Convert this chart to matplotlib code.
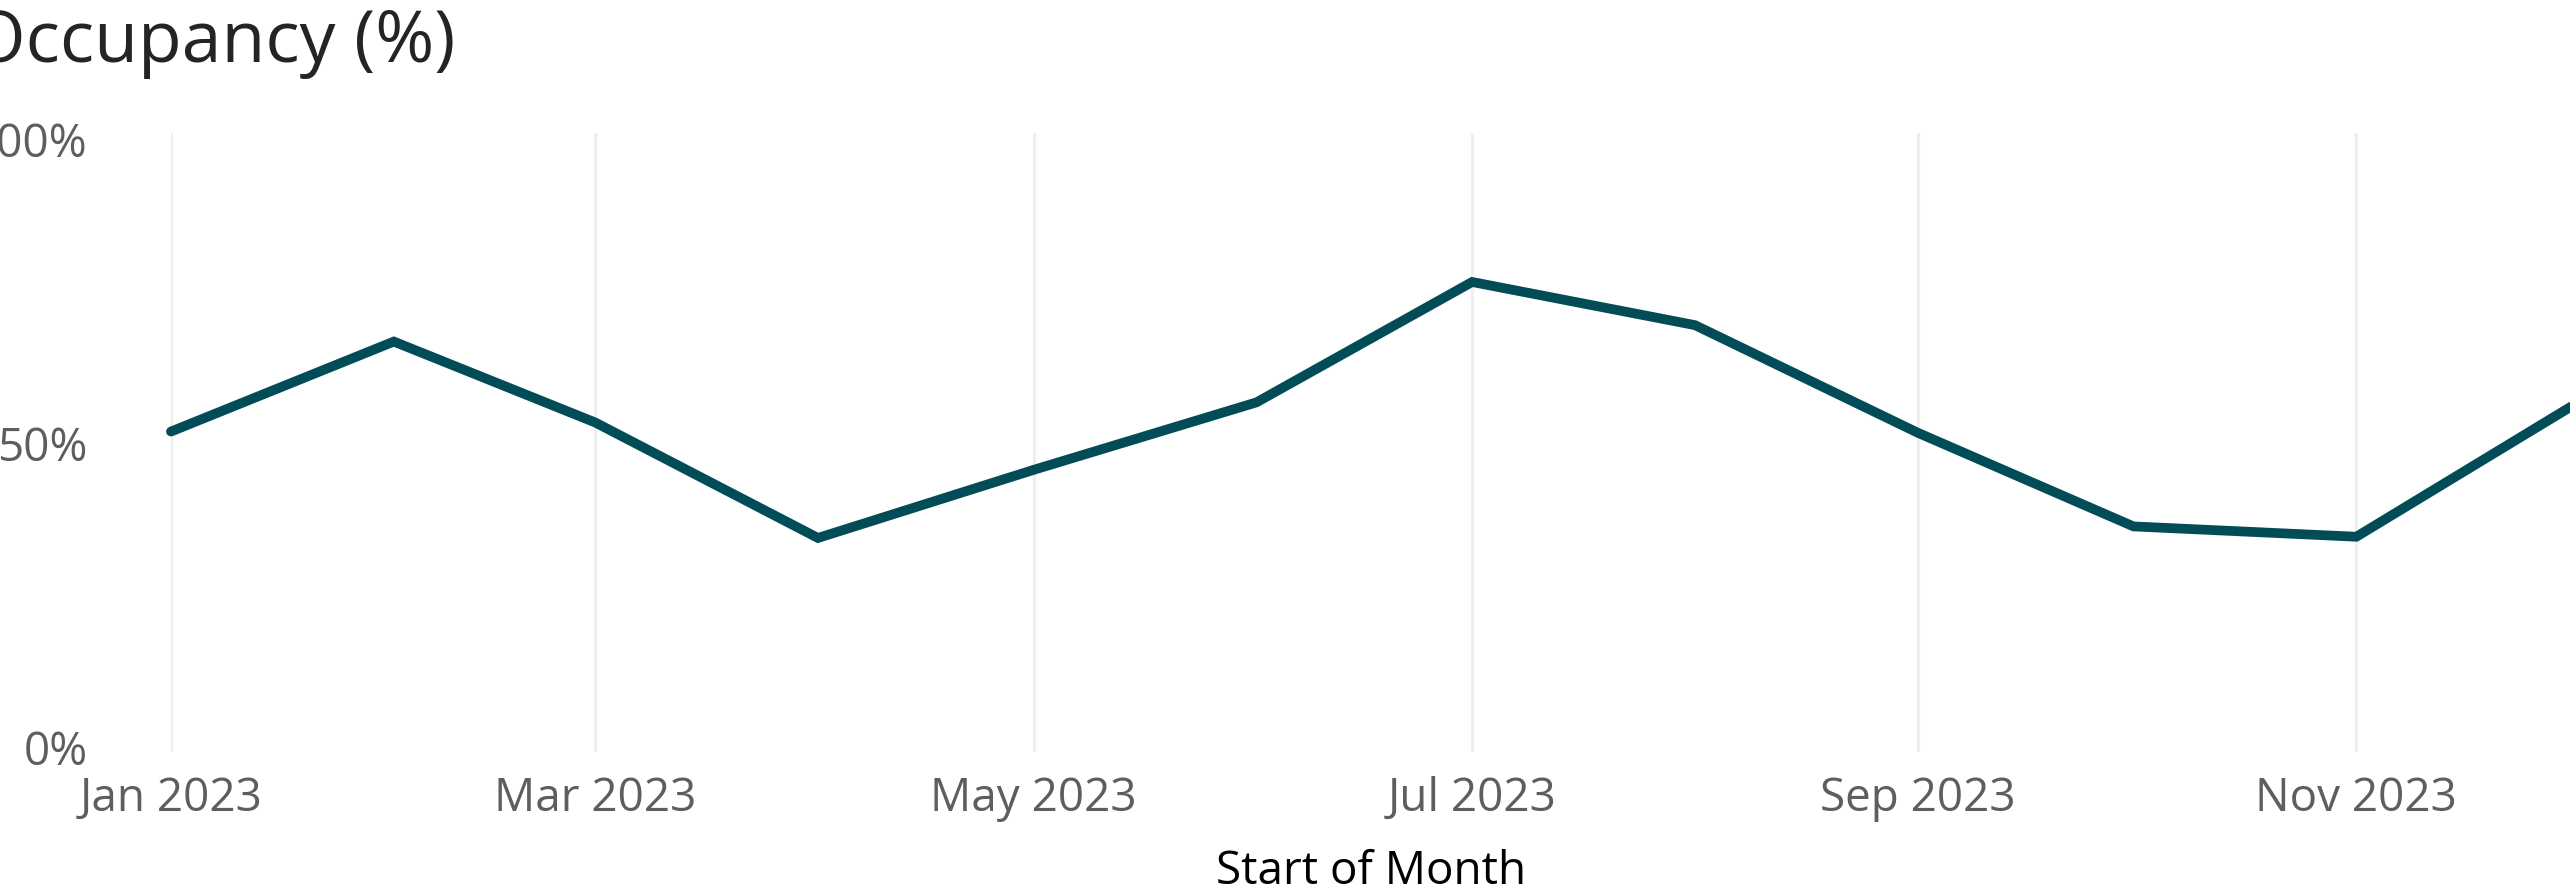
import numpy as np
import pandas as pd
import matplotlib
matplotlib.use("Agg")
import matplotlib.pyplot as plt
import matplotlib.dates as mdates
from matplotlib.ticker import FuncFormatter

# monthly occupancy
months = pd.date_range("2023-01-01", "2023-12-01", freq="MS")
occupancy = [0.520, 0.668, 0.535, 0.345, 0.457, 0.568, 0.766, 0.695, 0.518, 0.364, 0.347, 0.562]
tick_months = pd.date_range("2023-01-01", "2023-11-01", freq="2MS")
y_ticks = [0.0, 0.5, 1.0]

W, H = 2570, 894
plt.rcParams['font.family'] = ['Open Sans', 'DejaVu Sans']

fig = plt.figure(figsize=(W/100, H/100), dpi=100)
ax = fig.add_axes([171/W, (H-752)/H, 2401/W, 619/H])

ax.plot(months, occupancy, color='#014C57', lw=7, solid_joinstyle='miter',
        solid_capstyle='round', clip_on=False, zorder=3)

ax.set_xlim(months[0], months[-1])
ax.set_ylim(-0.007, 1.011)
ax.set_xticks(tick_months)
ax.xaxis.set_major_formatter(mdates.DateFormatter('%b %Y'))
ax.set_yticks(y_ticks)
ax.yaxis.set_major_formatter(FuncFormatter(lambda v, p: f"{v:.0%}"))

ax.grid(axis='x', color='#EFEFEF', lw=2.2)
ax.grid(axis='y', visible=False)
ax.set_axisbelow(True)
for s in ax.spines.values():
    s.set_visible(False)
ax.tick_params(length=0, labelsize=33, labelcolor='#605E5C')
ax.tick_params(axis='x', pad=17)
ax.tick_params(axis='y', pad=60)

ax.set_xlabel('Start of Month', fontsize=33, color='#000000', labelpad=20)

fig.text(-30/W, 1 - 62/H, 'Occupancy (%)', fontsize=51.5, color='#252423',
         ha='left', va='baseline')

fig.savefig('out.png', dpi=100, facecolor='white')
